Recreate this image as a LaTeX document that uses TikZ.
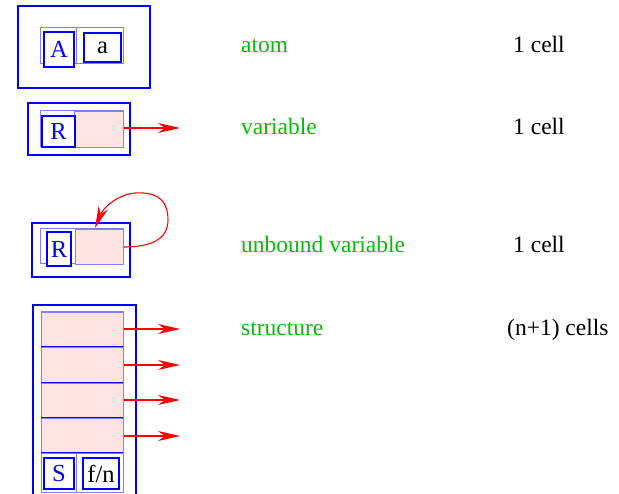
\documentclass[tikz,border=0pt]{standalone}
\usepackage{fontspec}
\setmainfont{Liberation Serif}
\usetikzlibrary{arrows.meta}

\definecolor{cellpink}{RGB}{255,228,228}
\definecolor{kindgreen}{RGB}{10,185,10}
\definecolor{framecol}{RGB}{128,128,255}

\tikzset{
  outerbox/.style={draw=blue, line width=2pt},
  framebox/.style={draw=framecol, line width=1pt},
  cellbox/.style={draw=framecol, fill=cellpink, line width=1pt, inner sep=0pt, anchor=north west},
  rowline/.style={draw=blue, line width=1pt},
  tagbox/.style={draw=blue, line width=2pt, fill=white, inner sep=0pt, anchor=north west,
    font=\fontsize{24.5}{28}\selectfont, text=blue},
  valbox/.style={tagbox, text=black},
  ptr/.style={draw=red, line width=1.1pt, -{Stealth[length=22pt,width=10pt,inset=7pt]}},
  kindlabel/.style={anchor=base west, text=kindgreen, font=\fontsize{23.5}{28}\selectfont, inner sep=0pt},
  sizelabel/.style={anchor=base west, text=black, font=\fontsize{23.5}{28}\selectfont, inner sep=0pt},
}

\begin{document}
\begin{tikzpicture}[x=1pt, y=-1pt]
\useasboundingbox (0,0) rectangle (619,494);
\clip (0,0) rectangle (619,494);

% ---------- atom ----------
\draw[outerbox] (18,6) rectangle (150,88);
\draw[framebox] (40,28) rectangle (123,64);
\draw[framebox] (76,28) -- (76,64);
\node[tagbox, minimum width=30pt, minimum height=35pt] (atag) at (43,31) {A};
\node[valbox, minimum width=37pt, minimum height=29pt] (aval) at (83,32) {a};
\node[kindlabel] (katom) at (241,53) {atom};
\node[sizelabel] (catom) at (513,53) {1 cell};

% ---------- variable ----------
\draw[outerbox] (28,103) rectangle (130,155);
\draw[framebox] (40,111) rectangle (123,147);
\node[cellbox, minimum width=49pt, minimum height=36pt] (vref) at (74,111) {};
\node[tagbox, minimum width=33pt, minimum height=31pt] (vtag) at (41,115) {R};
\coordinate (vend) at (180,128);
\draw[ptr] (vref.east |- vend) -- (vend);
\node[kindlabel] (kvar) at (241,135) {variable};
\node[sizelabel] (cvar) at (513,135) {1 cell};

% ---------- unbound variable ----------
\draw[outerbox] (32,223) rectangle (130,277);
\draw[framebox] (40,229) rectangle (123,264);
\node[cellbox, minimum width=48pt, minimum height=35pt] (uref) at (75,229) {};
\node[tagbox, minimum width=24pt, minimum height=34pt] (utag) at (46,231) {R};
\coordinate (utip) at (95,228);
\draw[ptr] (uref.east) .. controls (150,247) and (168,240) .. (168,220)
  .. controls (168,196) and (152,192) .. (135,193)
  .. controls (120,194) and (104,206) .. (utip);
\node[kindlabel] (kunb) at (241,253) {unbound variable};
\node[sizelabel] (cunb) at (513,253) {1 cell};

% ---------- structure ----------
\draw[outerbox] (33,500) -- (33,305) -- (136,305) -- (136,500);
\draw[framebox] (41,312) rectangle (123,492);
\node[cellbox, minimum width=82pt, minimum height=35pt] (s1) at (41,312) {};
\node[cellbox, minimum width=82pt, minimum height=36pt] (s2) at (41,347) {};
\node[cellbox, minimum width=82pt, minimum height=35pt] (s3) at (41,383) {};
\node[cellbox, minimum width=82pt, minimum height=35pt] (s4) at (41,418) {};
\draw[rowline] (41,347) -- (123,347);
\draw[rowline] (41,383) -- (123,383);
\draw[rowline] (41,418) -- (123,418);
\draw[rowline] (41,453) -- (123,453);
\draw[framebox] (76,453) -- (76,492);
\node[tagbox, minimum width=30pt, minimum height=31pt] (stag) at (43,457) {S};
\node[valbox, minimum width=36pt, minimum height=31pt] (sfun) at (82,457) {f/n};
\foreach \c/\y in {s1/329, s2/365, s3/400, s4/436} {
  \coordinate (\c end) at (180,\y);
  \draw[ptr] (\c.east |- \c end) -- (\c end);
}
\node[kindlabel] (kstr) at (241,336) {structure};
\node[sizelabel] (cstr) at (507,336) {(n+1) cells};
\end{tikzpicture}
\end{document}
